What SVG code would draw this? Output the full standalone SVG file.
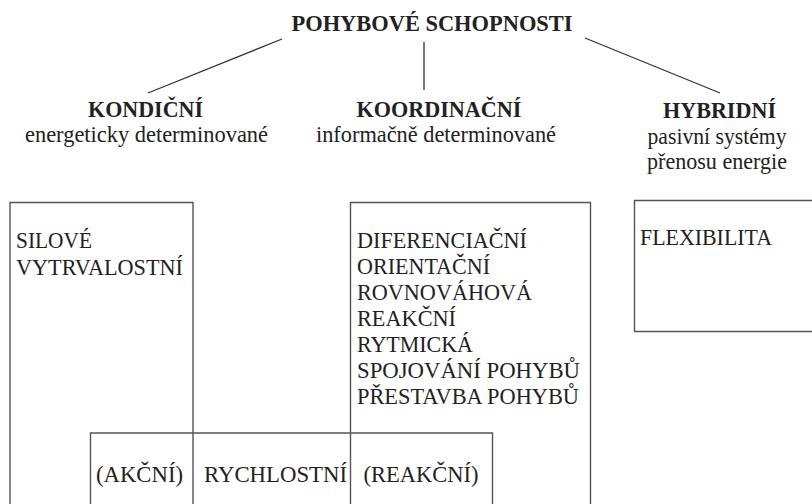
<svg xmlns="http://www.w3.org/2000/svg" width="812" height="504" viewBox="0 0 812 504">
<style>
text{font-family:"Liberation Serif","Times New Roman",serif;font-size:24px;fill:#222}
.b{font-weight:bold}
.m{text-anchor:middle}
.box{fill:none;stroke:#555;stroke-width:1.4}
.ln{stroke:#333;stroke-width:1.3;fill:none}
</style>
<rect width="812" height="504" fill="#fff"/>
<g id="connectors">
<line class="ln" x1="282" y1="39" x2="148" y2="93"/>
<line class="ln" x1="424" y1="42" x2="424" y2="90"/>
<line class="ln" x1="585" y1="38" x2="720" y2="93"/>
</g>
<g id="root"><text class="b m" x="432" y="31" textLength="281" lengthAdjust="spacingAndGlyphs">POHYBOVÉ SCHOPNOSTI</text></g>
<g id="kondicni">
<text class="b m" x="145.5" y="117" textLength="115" lengthAdjust="spacingAndGlyphs">KONDIČNÍ</text>
<text class="m" x="146.5" y="142" textLength="243" lengthAdjust="spacingAndGlyphs">energeticky determinované</text>
</g>
<g id="koordinacni">
<text class="b m" x="439" y="117" textLength="165" lengthAdjust="spacingAndGlyphs">KOORDINAČNÍ</text>
<text class="m" x="436" y="142" textLength="240" lengthAdjust="spacingAndGlyphs">informačně determinované</text>
</g>
<g id="hybridni">
<text class="b m" x="719.5" y="118" textLength="113" lengthAdjust="spacingAndGlyphs">HYBRIDNÍ</text>
<text class="m" x="717" y="144" textLength="139" lengthAdjust="spacingAndGlyphs">pasivní systémy</text>
<text class="m" x="717" y="169" textLength="140" lengthAdjust="spacingAndGlyphs">přenosu energie</text>
</g>
<g id="silove-vytrvalostni">
<path class="box" d="M10 510V202.5H193V510"/>
<text x="16" y="248" textLength="76" lengthAdjust="spacingAndGlyphs">SILOVÉ</text>
<text x="16" y="275" textLength="167" lengthAdjust="spacingAndGlyphs">VYTRVALOSTNÍ</text>
</g>
<g id="koordinacni-list">
<path class="box" d="M350.5 510V202.5H590.5V510"/>
<text x="357" y="248" textLength="170" lengthAdjust="spacingAndGlyphs">DIFERENCIAČNÍ</text>
<text x="357" y="274" textLength="133" lengthAdjust="spacingAndGlyphs">ORIENTAČNÍ</text>
<text x="357" y="300" textLength="175" lengthAdjust="spacingAndGlyphs">ROVNOVÁHOVÁ</text>
<text x="357" y="326" textLength="99" lengthAdjust="spacingAndGlyphs">REAKČNÍ</text>
<text x="357" y="352" textLength="116" lengthAdjust="spacingAndGlyphs">RYTMICKÁ</text>
<text x="357" y="378" textLength="223" lengthAdjust="spacingAndGlyphs">SPOJOVÁNÍ POHYBŮ</text>
<text x="357" y="404" textLength="222" lengthAdjust="spacingAndGlyphs">PŘESTAVBA POHYBŮ</text>
</g>
<g id="rychlostni">
<path class="box" d="M90.5 510V433H492.5V510"/>
<text x="96" y="482" textLength="87" lengthAdjust="spacingAndGlyphs">(AKČNÍ)</text>
<text x="204" y="482" textLength="143" lengthAdjust="spacingAndGlyphs">RYCHLOSTNÍ</text>
<text x="363.5" y="482" textLength="115" lengthAdjust="spacingAndGlyphs">(REAKČNÍ)</text>
</g>
<g id="flexibilita">
<path class="box" d="M820 200.5H634.5V331.5H820"/>
<text x="640" y="245" textLength="132" lengthAdjust="spacingAndGlyphs">FLEXIBILITA</text>
</g>
</svg>
